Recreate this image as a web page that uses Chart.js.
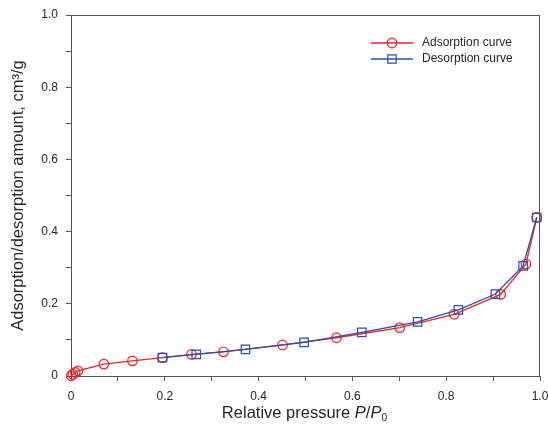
<!DOCTYPE html>
<html>
<head>
<meta charset="utf-8">
<script src="https://cdn.jsdelivr.net/npm/chart.js@4/dist/chart.umd.min.js"></script>
<style>
  html, body { margin: 0; padding: 0; background: #ffffff; }
  #wrap { width: 548px; height: 437px; position: relative; }
</style>
</head>
<body>
<div id="wrap"><canvas id="c" width="548" height="437"></canvas></div>
<script>
// ---- data ----
const adsorptionP = [0.0005, 0.004, 0.009, 0.015, 0.070, 0.131, 0.195, 0.257, 0.325, 0.451, 0.566, 0.701, 0.817, 0.916, 0.970, 0.993];
const adsorptionV = [0.001, 0.005, 0.010, 0.014, 0.033, 0.042, 0.051, 0.060, 0.067, 0.086, 0.106, 0.134, 0.171, 0.226, 0.310, 0.439];
const desorptionP = [0.993, 0.964, 0.905, 0.826, 0.739, 0.620, 0.497, 0.372, 0.267, 0.195];
const desorptionV = [0.439, 0.305, 0.227, 0.183, 0.150, 0.121, 0.093, 0.074, 0.060, 0.051];
const seriesNames = ['Adsorption curve', 'Desorption curve'];
const xTickLabels = {0: '0', 0.2: '0.2', 0.4: '0.4', 0.6: '0.6', 0.8: '0.8', 1: '1.0'};
const yTickLabels = {0: '0', 0.2: '0.2', 0.4: '0.4', 0.6: '0.6', 0.8: '0.8', 1: '1.0'};
const yTitle = 'Adsorption/desorption amount, cm\u00B3/g';
const xTitleParts = [['Relative pressure ', 'normal'], ['P', 'italic'], ['/', 'normal'], ['P', 'italic'], ['0', 'sub']];

const RED = '#e8232b';
const BLUE = '#2a4fa6';
const AXIS = '#555555';
const TEXT = '#262626';
const FONT = "'Liberation Sans', Arial, sans-serif";

function pts(xs, ys) { return xs.map((x, i) => ({x: x, y: ys[i]})); }
function lbl(map, v) {
  const k = Math.round(v * 10) / 10;
  for (const key in map) { if (Math.abs(parseFloat(key) - k) < 1e-9) return map[key]; }
  return '';
}

function drawMarker(ctx, style, x, y, color) {
  ctx.save();
  ctx.strokeStyle = color;
  ctx.lineWidth = 1.2;
  ctx.beginPath();
  if (style === 'circle') {
    ctx.arc(x, y, 4.8, 0, Math.PI * 2);
  } else {
    ctx.rect(x - 4.2, y - 4.2, 8.4, 8.4);
  }
  ctx.stroke();
  ctx.restore();
}

const framePlugin = {
  id: 'frame',
  afterDraw(chart) {
    const ctx = chart.ctx;
    const a = chart.chartArea;
    ctx.save();
    ctx.strokeStyle = AXIS;
    ctx.lineWidth = 1;
    ctx.beginPath();
    ctx.moveTo(a.left, a.top + 0.5);
    ctx.lineTo(a.right, a.top + 0.5);
    ctx.moveTo(a.right - 0.5, a.top);
    ctx.lineTo(a.right - 0.5, a.bottom);
    ctx.stroke();

    // legend (line + marker + label)
    const styles = ['circle', 'rect'];
    chart.data.datasets.forEach((ds, i) => {
      const y = a.top + 28 + i * 16;
      const x0 = a.right - 169;
      ctx.strokeStyle = ds.borderColor;
      ctx.lineWidth = 1.3;
      ctx.beginPath();
      ctx.moveTo(x0, y);
      ctx.lineTo(x0 + 42, y);
      ctx.stroke();
      drawMarker(ctx, styles[i], x0 + 21, y, ds.borderColor);
      ctx.fillStyle = TEXT;
      ctx.font = '12px ' + FONT;
      ctx.textAlign = 'left';
      ctx.textBaseline = 'middle';
      ctx.fillText(ds.label, x0 + 51, y);
    });

    // x axis title with italic P and subscript 0
    const size = 16.5;
    const parts = xTitleParts.map(p => {
      const f = p[1] === 'italic' ? 'italic ' + size + 'px ' + FONT
              : p[1] === 'sub' ? (size * 0.62) + 'px ' + FONT
              : size + 'px ' + FONT;
      ctx.font = f;
      return {t: p[0], f: f, w: ctx.measureText(p[0]).width, sub: p[1] === 'sub'};
    });
    const total = parts.reduce((s, p) => s + p.w, 0);
    let x = (a.left + a.right) / 2 - total / 2 - 1;
    const yBase = 418;
    ctx.fillStyle = TEXT;
    ctx.textAlign = 'left';
    ctx.textBaseline = 'alphabetic';
    parts.forEach(p => {
      ctx.font = p.f;
      ctx.fillText(p.t, x, p.sub ? yBase + 3 : yBase);
      x += p.w;
    });
    ctx.restore();
  }
};

new Chart(document.getElementById('c'), {
  type: 'line',
  data: {
    datasets: [
      {
        label: seriesNames[0],
        data: pts(adsorptionP, adsorptionV),
        borderColor: RED,
        backgroundColor: 'rgba(0,0,0,0)',
        borderWidth: 1.3,
        pointStyle: 'circle',
        pointRadius: 4.8,
        pointBorderWidth: 1.2,
        pointBackgroundColor: 'rgba(0,0,0,0)',
        pointBorderColor: RED,
        tension: 0,
        clip: false,
        order: 1
      },
      {
        label: seriesNames[1],
        data: pts(desorptionP, desorptionV),
        borderColor: BLUE,
        backgroundColor: 'rgba(0,0,0,0)',
        borderWidth: 1.3,
        pointStyle: 'rect',
        pointRadius: 6,
        pointBorderWidth: 1.2,
        pointBackgroundColor: 'rgba(0,0,0,0)',
        pointBorderColor: BLUE,
        tension: 0,
        clip: false,
        order: 0
      }
    ]
  },
  options: {
    responsive: false,
    animation: false,
    devicePixelRatio: 1,
    layout: { padding: { left: 0, right: 8, top: 15, bottom: 0 } },
    plugins: { legend: { display: false }, tooltip: { enabled: false } },
    scales: {
      x: {
        type: 'linear',
        min: 0, max: 1,
        afterFit(s) { s.height = 61; s.paddingLeft = 0; s.paddingRight = 0; },
        ticks: {
          stepSize: 0.1,
          autoSkip: false,
          maxRotation: 0,
          padding: 8,
          color: TEXT,
          font: { family: FONT, size: 12 },
          callback: v => lbl(xTickLabels, v)
        },
        grid: { drawOnChartArea: false, drawTicks: true, tickLength: 5, color: AXIS, tickWidth: 1 },
        border: { display: true, color: AXIS, width: 1 }
      },
      y: {
        type: 'linear',
        min: 0, max: 1,
        afterFit(s) { s.width = 71; s.paddingTop = 0; s.paddingBottom = 0; },
        ticks: {
          stepSize: 0.1,
          autoSkip: false,
          padding: 8,
          color: TEXT,
          font: { family: FONT, size: 12 },
          callback: v => lbl(yTickLabels, v)
        },
        grid: { drawOnChartArea: false, drawTicks: true, tickLength: 5, color: AXIS, tickWidth: 1 },
        border: { display: true, color: AXIS, width: 1 },
        title: {
          display: true,
          text: yTitle,
          color: TEXT,
          font: { family: FONT, size: 16.5 },
          padding: { top: 9, bottom: 0 }
        }
      }
    }
  },
  plugins: [framePlugin]
});
</script>
</body>
</html>
